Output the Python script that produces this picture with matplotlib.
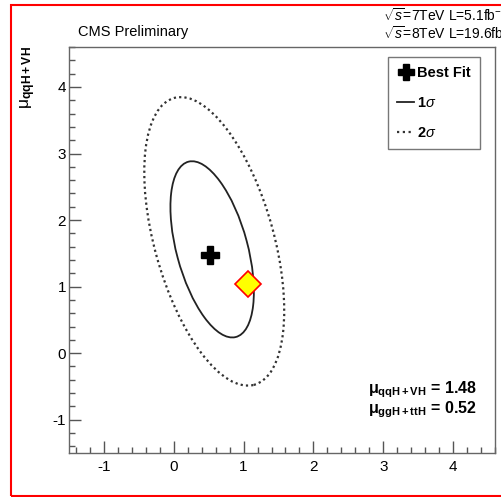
import matplotlib
matplotlib.use('Agg')
import matplotlib.pyplot as plt
from matplotlib.patches import Ellipse, Rectangle
from matplotlib.lines import Line2D
from matplotlib.ticker import MultipleLocator

plt.rcParams['font.family'] = ['Liberation Sans', 'DejaVu Sans']
plt.rcParams['mathtext.fontset'] = 'custom'
plt.rcParams['mathtext.rm'] = 'Liberation Sans'
plt.rcParams['mathtext.it'] = 'Liberation Sans:italic'
plt.rcParams['mathtext.bf'] = 'Liberation Sans:bold'
plt.rcParams['axes.unicode_minus'] = False

# best fit and SM expectation
mu_ggH_ttH = 0.52
mu_qqH_VH = 1.48
sm_point = [1.07, 1.04]

# contour ellipses: centre x, centre y, width, height, rotation (deg)
one_sigma = [0.55, 1.56, 1.02, 2.72, 14.3]
two_sigma = [0.58, 1.68, 1.71, 4.46, 14.7]

x_ticks = [-1, 0, 1, 2, 3, 4]
y_ticks = [-1, 0, 1, 2, 3, 4]

fig = plt.figure(figsize=(5.01, 4.97), dpi=100)
ax = fig.add_axes([0.1377, 0.0885, 0.8503, 0.8169])

e1 = Ellipse((one_sigma[0], one_sigma[1]), one_sigma[2], one_sigma[3], angle=one_sigma[4],
             fill=False, edgecolor='#222222', linewidth=1.3)
e2 = Ellipse((two_sigma[0], two_sigma[1]), two_sigma[2], two_sigma[3], angle=two_sigma[4],
             fill=False, edgecolor='#333333', linewidth=1.6, linestyle=(0, (1, 1.4)))
ax.add_patch(e2)
ax.add_patch(e1)

ax.plot([mu_ggH_ttH], [mu_qqH_VH], marker='P', color='black', markersize=13, linestyle='none')
ax.plot([sm_point[0]], [sm_point[1]], marker='D', markerfacecolor='#ffff00',
        markeredgecolor='red', markeredgewidth=1.2, markersize=13, linestyle='none')

ax.set_xlim(-1.5, 4.6)
ax.set_ylim(-1.5, 4.6)
ax.set_xticks(x_ticks)
ax.set_yticks(y_ticks)
ax.xaxis.set_minor_locator(MultipleLocator(0.2))
ax.yaxis.set_minor_locator(MultipleLocator(0.2))
ax.tick_params(which='both', direction='in', color='#555555', labelsize=11, width=1)
ax.tick_params(which='major', length=8.5)
ax.tick_params(which='minor', length=4.3)
ax.tick_params(axis='x', pad=5)
ax.tick_params(axis='y', pad=2)
for s in ax.spines.values():
    s.set_color('#666666')
    s.set_linewidth(1)

# legend
handles = [
    Line2D([], [], marker='P', color='black', markersize=12, linestyle='none'),
    Line2D([], [], color='#222222', linewidth=1.3),
    Line2D([], [], color='#333333', linewidth=1.6, linestyle=(0, (1, 1.6))),
]
leg = fig.legend(handles, ['Best Fit', r'1$\sigma$', r'2$\sigma$'],
                 loc='upper left', bbox_to_anchor=(388 / 501, 1 - 57 / 497),
                 bbox_transform=fig.transFigure, fancybox=False, framealpha=1,
                 edgecolor='#777777', prop={'weight': 'bold', 'size': 10.5},
                 handlelength=1.2, handletextpad=0.2, labelspacing=1.1,
                 borderpad=0.6, borderaxespad=0)
leg.get_frame().set_linewidth(1)
leg.get_frame().set_width(97)

# headers
fig.text(78 / 501, 1 - 32 / 497, 'CMS Preliminary', fontsize=10.5, va='center', ha='left')
fig.text(383 / 501, 1 - 15 / 497, r'$\sqrt{s}$=7TeV L=5.1fb$^{-1}$', fontsize=10, va='center', ha='left')
fig.text(383 / 501, 1 - 33 / 497, r'$\sqrt{s}$=8TeV L=19.6fb$^{-1}$', fontsize=10, va='center', ha='left')

# y axis title
fig.text(28 / 501, 1 - 46 / 497, r'$\mathregular{\mu}_{\mathbf{qqH+VH}}$', fontsize=12.5, rotation=90,
         ha='center', va='top')

# best fit values
fig.text(368 / 501, 1 - 393 / 497, r'$\mathregular{\mu}_{\mathbf{qqH+VH}}$ = %.2f' % mu_qqH_VH,
         fontsize=11.5, fontweight='bold', ha='left', va='baseline')
fig.text(368 / 501, 1 - 413 / 497, r'$\mathregular{\mu}_{\mathbf{ggH+ttH}}$ = %.2f' % mu_ggH_ttH,
         fontsize=11.5, fontweight='bold', ha='left', va='baseline')

# red frame
fig.patches.append(Rectangle((11 / 501, 1 - 496 / 497), 1.0, 491 / 497,
                             transform=fig.transFigure, fill=False, edgecolor='red',
                             linewidth=1.5, clip_on=False))

fig.savefig('out.png', dpi=100)
